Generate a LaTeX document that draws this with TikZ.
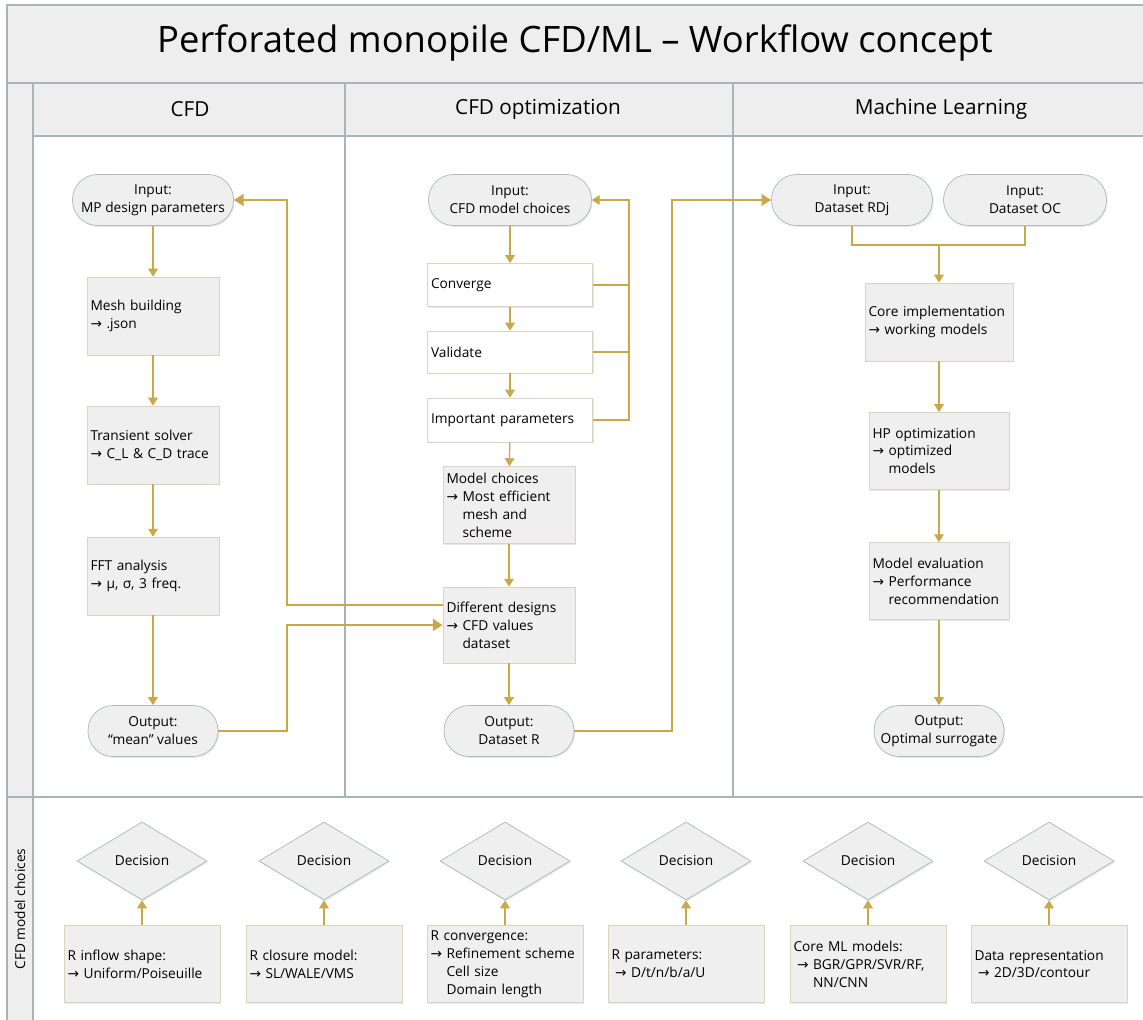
\documentclass[tikz,border=0pt]{standalone}
\usepackage{fontspec}
\setmainfont{Open Sans}
\newfontfamily\symfont{DejaVu Sans}
\usetikzlibrary{arrows.meta,shapes.geometric,shadows}

\definecolor{flowgold}{RGB}{201,168,72}
\definecolor{lanegrey}{RGB}{238,238,238}
\definecolor{laneline}{RGB}{165,182,180}
\definecolor{boxfill}{RGB}{239,239,239}
\definecolor{boxline}{RGB}{218,212,190}
\definecolor{termline}{RGB}{172,186,186}

\newcommand{\rarr}{{\symfont\char"2192}}
\newcommand{\indt}{\phantom{\rarr\ }}

\tikzset{
  bodytext/.style={font=\fontsize{7.8}{10.2}\selectfont},
  softshadow/.style={drop shadow={shadow xshift=0.6pt,shadow yshift=-0.8pt,fill=black!18}},
  proc/.style={bodytext,rectangle,draw=boxline,fill=boxfill,align=left,inner sep=2pt,softshadow},
  whiteproc/.style={proc,fill=white},
  term/.style={bodytext,rectangle,rounded corners=0.5cm,draw=termline,fill=boxfill,align=center,
    minimum height=1.02cm,inner sep=1pt,softshadow},
  decision/.style={bodytext,diamond,draw=termline,fill=boxfill,minimum width=2.6cm,minimum height=1.56cm,
    inner sep=0pt,softshadow},
  choice/.style={proc,minimum width=3.12cm,minimum height=1.54cm,text width=2.98cm},
  flow/.style={draw=flowgold,line width=0.7pt,-{Triangle[length=4.5pt,width=5.5pt]}},
  thickflow/.style={draw=flowgold,line width=1.4pt,-{Triangle[length=5.5pt,width=6.5pt]}},
  line/.style={draw=flowgold,line width=0.7pt},
  thickline/.style={draw=flowgold,line width=1.4pt},
  lanehead/.style={font=\fontsize{11.8}{14}\selectfont}
}

\begin{document}
\begin{tikzpicture}[x=0.02cm,y=-0.02cm]
\useasboundingbox (0,0) rectangle (1143,1020);
% pool and lanes
\fill[lanegrey] (7,5) rectangle (1143,83);
\fill[lanegrey] (7,83) rectangle (33,1020);
\fill[lanegrey] (33,83) rectangle (1143,136);
\draw[laneline,line width=0.8pt] (1143,5) -- (7,5) -- (7,1020);
\draw[laneline,line width=0.8pt] (7,83) -- (1143,83);
\draw[laneline,line width=0.8pt] (33,136) -- (1143,136);
\draw[laneline,line width=0.8pt] (33,83) -- (33,1020);
\draw[laneline,line width=0.8pt] (345,83) -- (345,797);
\draw[laneline,line width=0.8pt] (733,83) -- (733,797);
\draw[laneline,line width=1.6pt] (7,797) -- (1143,797);

\node[font=\fontsize{20.7}{24}\selectfont] (title) at (575,43) {Perforated monopile CFD/ML – Workflow concept};
\node[lanehead] (hcfd) at (190,109) {CFD};
\node[lanehead] (hopt) at (538,109) {CFD optimization};
\node[lanehead] (hml) at (941,109) {Machine Learning};
\node[bodytext,rotate=90] (hchoice) at (20,909) {CFD model choices};

% CFD lane
\node[term,minimum width=3.22cm] (in1) at (153,200) {Input:\\MP design parameters};
\node[proc,minimum width=2.6cm,minimum height=1.56cm,text width=2.5cm] (mesh) at (153,316) {Mesh building\\\rarr\ .json};
\node[proc,minimum width=2.6cm,minimum height=1.56cm,text width=2.5cm] (trans) at (153,445) {Transient solver\\\rarr\ C\_L \& C\_D trace};
\node[proc,minimum width=2.6cm,minimum height=1.56cm,text width=2.5cm] (fft) at (153,576) {FFT analysis\\\rarr\ μ, σ, 3 freq.};
\node[term,minimum width=2.6cm] (out1) at (153,731) {Output:\\“mean” values};

% CFD optimization lane
\node[term,minimum width=3.26cm] (in2) at (510,200) {Input:\\CFD model choices};
\node[whiteproc,minimum width=3.26cm,minimum height=0.86cm,text width=3.16cm] (conv) at (510,285) {Converge};
\node[whiteproc,minimum width=3.26cm,minimum height=0.84cm,text width=3.16cm] (valid) at (510,352) {Validate};
\node[whiteproc,minimum width=3.26cm,minimum height=0.88cm,text width=3.16cm] (imp) at (510,420) {Important parameters};
\node[proc,minimum width=2.6cm,minimum height=1.54cm,text width=2.5cm] (mc) at (509,505) {Model choices\\\rarr\ Most efficient\\\indt mesh and\\\indt scheme};
\node[proc,minimum width=2.6cm,minimum height=1.52cm,text width=2.5cm] (diff) at (509,625) {Different designs\\\rarr\ CFD values\\\indt dataset};
\node[term,minimum width=2.6cm] (out2) at (509,731) {Output:\\Dataset R};

% Machine Learning lane
\node[term,minimum width=3.22cm] (in3) at (852,200) {Input:\\Dataset RDj};
\node[term,minimum width=3.26cm] (in4) at (1025,200) {Input:\\Dataset OC};
\node[proc,minimum width=2.92cm,minimum height=1.56cm,text width=2.82cm] (core) at (939,322) {Core implementation\\\rarr\ working models};
\node[proc,minimum width=2.76cm,minimum height=1.54cm,text width=2.66cm] (hp) at (939,451) {HP optimization\\\rarr\ optimized\\\indt models};
\node[proc,minimum width=2.76cm,minimum height=1.54cm,text width=2.66cm] (eval) at (939,581) {Model evaluation\\\rarr\ Performance\\\indt recommendation};
\node[term,minimum width=2.6cm] (out3) at (939,731) {Output:\\Optimal surrogate};

% CFD model choices lane
\node[decision] (d1) at (142,861) {Decision};
\node[decision] (d2) at (324,861) {Decision};
\node[decision] (d3) at (505,861) {Decision};
\node[decision] (d4) at (686,861) {Decision};
\node[decision] (d5) at (868,861) {Decision};
\node[decision] (d6) at (1049,861) {Decision};
\node[choice] (c1) at (142,964) {R inflow shape:\\\rarr\ Uniform/Poiseuille};
\node[choice] (c2) at (324,964) {R closure model:\\\rarr\ SL/WALE/VMS};
\node[choice] (c3) at (505,964) {R convergence:\\\rarr\ Refinement scheme\\\indt Cell size\\\indt Domain length};
\node[choice] (c4) at (686,964) {R parameters:\\\hspace*{2pt}\rarr\ D/t/n/b/a/U};
\node[choice] (c5) at (868,964) {Core ML models:\\\hspace*{2pt}\rarr\ BGR/GPR/SVR/RF,\\\hspace*{2pt}\indt NN/CNN};
\node[choice] (c6) at (1049,964) {Data representation\\\hspace*{2pt}\rarr\ 2D/3D/contour};

% connectors
\draw[flow] (in1) -- (mesh);
\draw[flow] (mesh) -- (trans);
\draw[flow] (trans) -- (fft);
\draw[flow] (fft) -- (out1);
\draw[flow] (in2) -- (conv);
\draw[flow] (conv) -- (valid);
\draw[flow] (valid) -- (imp);
\draw[flow] (imp) -- (mc);
\draw[flow] (mc) -- (diff);
\draw[flow] (diff) -- (out2);
\draw[line] (conv.east) -- (629,285);
\draw[line] (valid.east) -- (629,352);
\draw[flow] (imp.east) -- (629,420) |- (in2.east);
\draw[thickflow] (diff.west |- 0,605) -- (287,605) |- (in1.east);
\draw[thickflow] (out1.east) -- (287,731) |- (diff.west |- 0,625);
\draw[thickflow] (out2.east) -- (672,731) |- (in3.west);
\draw[line] (in3.south) |- (939,245);
\draw[line] (in4.south) |- (939,245);
\draw[flow] (939,245) -- (core);
\draw[flow] (core) -- (hp);
\draw[flow] (hp) -- (eval);
\draw[flow] (eval) -- (out3);
\foreach \k in {1,...,6}
  \draw[flow] (c\k) -- (d\k);
\end{tikzpicture}
\end{document}
